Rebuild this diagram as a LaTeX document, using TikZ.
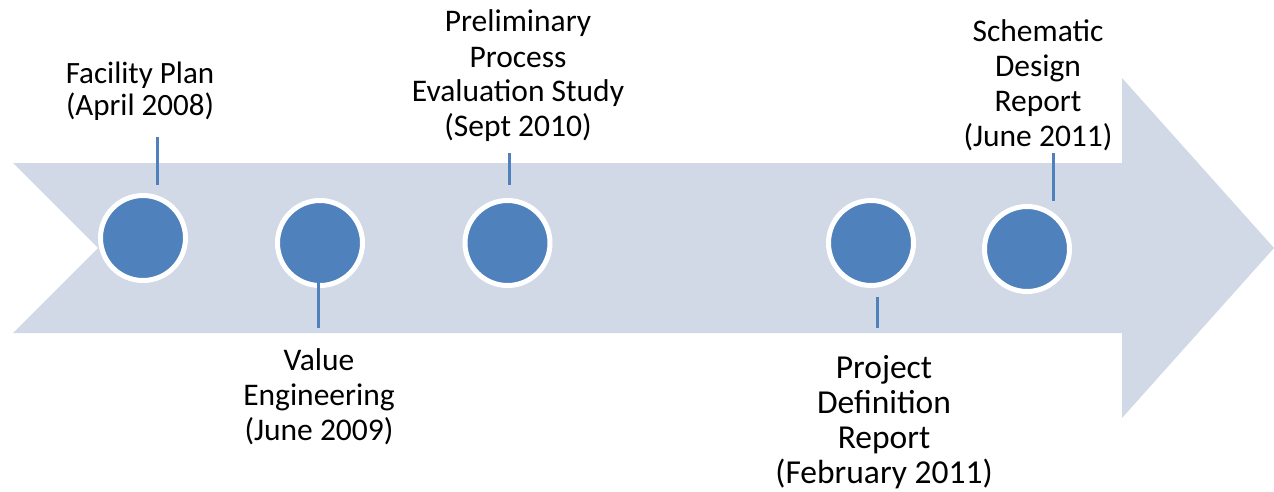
\documentclass[tikz,border=0pt]{standalone}
\usepackage{fontspec}
\setmainfont{Carlito}
\definecolor{arrowfill}{HTML}{D1D9E7}
\definecolor{dotblue}{HTML}{4F81BD}
\tikzset{
  dot/.style={circle, fill=dotblue, draw=white, line width=2.5pt, minimum size=42.5pt, inner sep=0pt},
  tick/.style={draw=dotblue, line width=1.5pt},
  lbl/.style={align=center, inner sep=0pt, anchor=base, text=black, font=\fontsize{15.75pt}{17.5pt}\selectfont},
}
\begin{document}
\begin{tikzpicture}[x=0.5pt, y=-0.5pt]
\useasboundingbox (0,0) rectangle (1274,492);
\fill[arrowfill] (13,163) -- (1122,163) -- (1122,78) -- (1274,248) -- (1122,418) -- (1122,333) -- (13,333) -- (98,248) -- cycle;

\node[dot] (c1) at (143,238) {};
\node[dot] (c2) at (320,243) {};
\node[dot] (c3) at (507.5,243) {};
\node[dot] (c4) at (871,243) {};
\node[dot] (c5) at (1027,249) {};

\node[lbl, font=\fontsize{15.5pt}{16.5pt}\selectfont] (t1) at (140,116) {Facility Plan\\(April 2008)};
\node[lbl] (t2) at (319,440) {Value\\Engineering\\(June 2009)};
\node[lbl] (t3) at (518,137) {Preliminary\\Process\\Evaluation Study\\(Sept 2010)};
\node[lbl, font=\fontsize{16.75pt}{17.5pt}\selectfont] (t4) at (884,483) {Project\\Definition\\Report\\(February 2011)};
\node[lbl] (t5) at (1038,147) {Schematic\\Design\\Report\\(June 2011)};

\coordinate (a1) at (157,137); \coordinate (b1) at (157,185);
\coordinate (a2) at (318,265); \coordinate (b2) at (318,328);
\coordinate (a3) at (509,153); \coordinate (b3) at (509,185);
\coordinate (a4) at (877,297); \coordinate (b4) at (877,328);
\coordinate (a5) at (1053,153); \coordinate (b5) at (1053,201);
\draw[tick] (a1) -- (b1);
\draw[tick] (a2) -- (b2);
\draw[tick] (a3) -- (b3);
\draw[tick] (a4) -- (b4);
\draw[tick] (a5) -- (b5);
\end{tikzpicture}
\end{document}
